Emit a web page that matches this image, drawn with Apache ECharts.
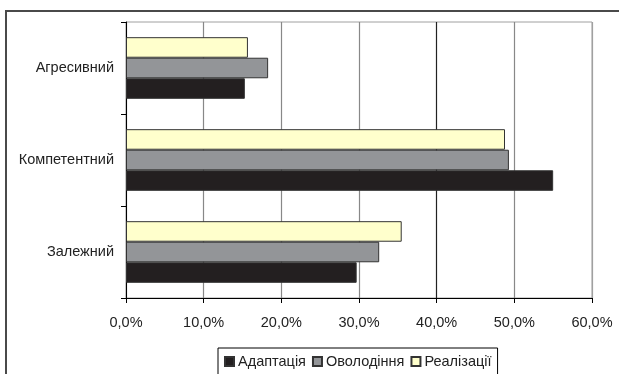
<!DOCTYPE html>
<html>
<head>
<meta charset="utf-8">
<script src="https://cdn.jsdelivr.net/npm/echarts@6/dist/echarts.min.js"></script>
<style>
  html, body { margin: 0; padding: 0; background: #fff; }
  #chart { width: 619px; height: 374px; }
</style>
</head>
<body>
<div id="chart"></div>
<script>
// Styles of behaviour, listed bottom to top on the vertical axis
const categories = ['Залежний', 'Компетентний', 'Агресивний'];

// Percentages per stage
const adaptation = [29.7, 55.0, 15.3];   // Адаптація
const mastering  = [32.6, 49.3, 18.3];   // Оволодіння
const realization = [35.5, 48.8, 15.7];  // Реалізації

const seriesNames = ['Адаптація', 'Оволодіння', 'Реалізації'];
const seriesValues = [adaptation, mastering, realization];
const seriesColors = ['#231f20', '#939598', '#ffffcc'];

const axisMin = 0, axisMax = 60, axisStep = 10;

const fmtPct = v => v.toFixed(1).replace('.', ',') + '%';
const font = '"Liberation Sans", Arial, sans-serif';
const fs = 14.5;

const chart = echarts.init(document.getElementById('chart'), null, { renderer: 'canvas' });

// Bars inside a category stack top-down in series order, so the
// last stage is added first to keep Адаптація at the bottom.
const order = [2, 1, 0];

chart.setOption({
  animation: false,
  backgroundColor: '#fff',
  textStyle: { fontFamily: font },
  grid: {
    left: 126, right: 27, top: 22, bottom: 76,
    show: true, borderColor: '#a0a0a0', borderWidth: 1
  },
  xAxis: {
    type: 'value',
    min: axisMin, max: axisMax, interval: axisStep,
    axisLine: { show: true, lineStyle: { color: '#000', width: 1 } },
    axisTick: { show: true, length: 5, lineStyle: { color: '#000' } },
    axisLabel: {
      formatter: fmtPct, color: '#222', fontSize: fs, margin: 17, fontFamily: font
    },
    splitLine: {
      show: true,
      lineStyle: { color: ['#888', '#888', '#888', '#888', '#222', '#888', '#a0a0a0'], width: 1.2 }
    }
  },
  yAxis: {
    type: 'category',
    data: categories,
    axisLine: { show: true, lineStyle: { color: '#000', width: 1 } },
    axisTick: { show: true, length: 5, lineStyle: { color: '#000' } },
    axisLabel: { color: '#222', fontSize: fs, margin: 12, fontFamily: font }
  },
  legend: {
    data: seriesNames,
    left: 218, top: 348,
    icon: 'rect',
    itemWidth: 9, itemHeight: 9, itemGap: 6,
    padding: [6, 6, 8, 6],
    borderColor: '#000', borderWidth: 1,
    textStyle: { color: '#222', fontSize: fs, fontFamily: font, padding: [0, 0, 0, -1] }
  },
  series: order.map(i => ({
    name: seriesNames[i],
    type: 'bar',
    data: seriesValues[i],
    barGap: '0%',
    barCategoryGap: '33%',
    itemStyle: { color: seriesColors[i], borderColor: '#333', borderWidth: 1 }
  })),
  graphic: [{
    type: 'rect',
    shape: { x: 6, y: 11, width: 800, height: 600 },
    style: { fill: 'none', stroke: '#4a4a4a', lineWidth: 2 },
    silent: true
  }]
});
</script>
</body>
</html>
